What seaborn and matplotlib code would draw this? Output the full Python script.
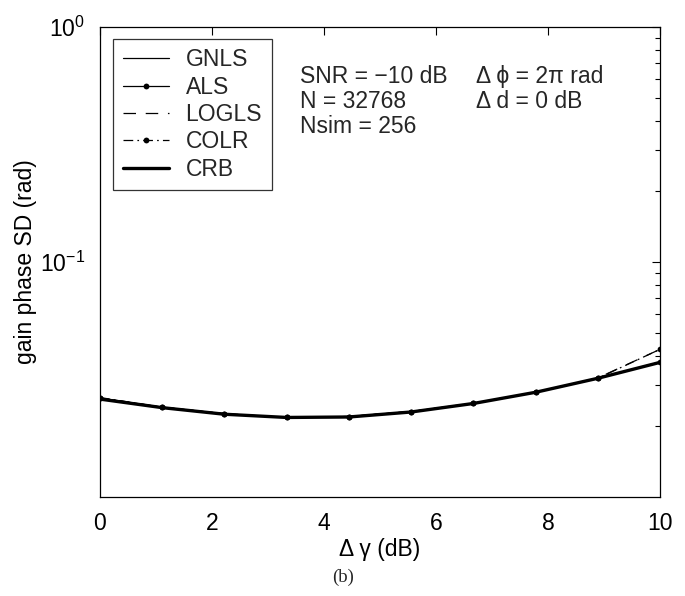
import numpy as np
import pandas as pd
import matplotlib
matplotlib.use("Agg")
import matplotlib.pyplot as plt
import seaborn as sns
from matplotlib.lines import Line2D

# ---- data ----
delta_gamma = [0.0, 1.111, 2.222, 3.333, 4.444, 5.556, 6.667, 7.778, 8.889, 10.0]
gnls  = [0.0263, 0.0241, 0.0226, 0.0218, 0.0220, 0.0231, 0.0250, 0.0279, 0.0320, 0.0375]
als   = [0.0264, 0.0241, 0.0226, 0.0218, 0.0220, 0.0231, 0.0250, 0.0279, 0.0320, 0.0375]
logls = [0.0263, 0.0241, 0.0226, 0.0218, 0.0220, 0.0231, 0.0250, 0.0279, 0.0321, 0.0425]
colr  = [0.0265, 0.0241, 0.0226, 0.0218, 0.0220, 0.0231, 0.0251, 0.0279, 0.0320, 0.0425]
crb   = [0.0261, 0.0240, 0.0225, 0.0218, 0.0219, 0.0230, 0.0250, 0.0279, 0.0320, 0.0374]
series_names = ["GNLS", "ALS", "LOGLS", "COLR", "CRB"]
x_ticks = [0, 2, 4, 6, 8, 10]
y_ticks = [0.1, 1.0]
y_tick_labels = [r"$10^{-1}$", r"$10^{0}$"]

sns.set_theme(style="white")
plt.rcParams["font.family"] = ["Liberation Sans", "DejaVu Sans"]
plt.rcParams["mathtext.fontset"] = "custom"
plt.rcParams["mathtext.rm"] = "Liberation Sans"
plt.rcParams["mathtext.it"] = "Liberation Sans:italic"
plt.rcParams["lines.scale_dashes"] = False

FS = 16.5
fig = plt.figure(figsize=(6.85, 5.96), dpi=100)
ax = fig.add_axes([100/685, (596-497)/596, (660-100)/685, (497-27)/596])

styles = {
    "GNLS":  dict(lw=0.9, ls="-", marker=None),
    "ALS":   dict(lw=0.9, ls="-", marker="o"),
    "LOGLS": dict(lw=0.9, ls=(0, (9, 7)), marker=None),
    "COLR":  dict(lw=0.9, ls=(0, (7, 3, 1.2, 3)), marker="o"),
    "CRB":   dict(lw=2.4, ls="-", marker=None),
}
values = {"GNLS": gnls, "ALS": als, "LOGLS": logls, "COLR": colr, "CRB": crb}

handles = []
for name in series_names:
    st = styles[name]
    df = pd.DataFrame({"x": delta_gamma, "y": values[name]})
    kw = dict(color="black", lw=st["lw"], linestyle=st["ls"])
    if st["marker"]:
        kw.update(marker="o", markersize=4.2, markeredgewidth=0)
    sns.lineplot(data=df, x="x", y="y", ax=ax, **kw)
    handles.append(Line2D([], [], **kw, label=name))

ax.set_yscale("log")
ax.set_xlim(0, 10)
ax.set_ylim(0.01, 1.0)
ax.set_xticks(x_ticks)
ax.set_xticklabels([str(t) for t in x_ticks])
ax.set_yticks(y_ticks)
ax.set_yticklabels(y_tick_labels)
ax.yaxis.set_minor_locator(matplotlib.ticker.LogLocator(base=10, subs=np.arange(2, 10)))
ax.yaxis.set_minor_formatter(matplotlib.ticker.NullFormatter())
ax.tick_params(which="both", direction="in", top=True, right=True, labelsize=FS, colors="black")
ax.tick_params(which="major", length=6, width=0.8)
ax.tick_params(axis="x", which="major", pad=11)
ax.tick_params(axis="y", which="major", pad=11)
ax.tick_params(which="minor", length=3.5, width=0.8)
for s in ax.spines.values():
    s.set_color("black")
    s.set_linewidth(0.9)

ax.set_xlabel("Δ γ (dB)", fontsize=FS, color="black", labelpad=2)
ax.set_ylabel("gain phase SD (rad)", fontsize=FS, color="black", labelpad=2)

leg = ax.legend(handles=handles, loc="upper left", bbox_to_anchor=(0.023, 0.975),
                fontsize=FS, frameon=True, fancybox=False, edgecolor="black",
                handlelength=2.05, handletextpad=0.7, labelspacing=0.19,
                borderpad=0.42, borderaxespad=0, numpoints=1)
leg.get_frame().set_linewidth(0.9)

def yfrac(ypix):
    return (497 - ypix) / 470

ax.text(0.357, yfrac(83), "SNR = −10 dB", transform=ax.transAxes, fontsize=FS, va="baseline")
ax.text(0.357, yfrac(108), "N = 32768", transform=ax.transAxes, fontsize=FS, va="baseline")
ax.text(0.357, yfrac(133), "Nsim = 256", transform=ax.transAxes, fontsize=FS, va="baseline")
ax.text(0.672, yfrac(83), "Δ ϕ = 2π rad", transform=ax.transAxes, fontsize=FS, va="baseline")
ax.text(0.672, yfrac(108), "Δ d = 0 dB", transform=ax.transAxes, fontsize=FS, va="baseline")

fig.text(343/685, 1 - 577/596, "(b)", ha="center", va="center", fontsize=13.5,
         family=["Liberation Serif", "DejaVu Serif"])

fig.savefig("out.png", dpi=100, facecolor="white")
